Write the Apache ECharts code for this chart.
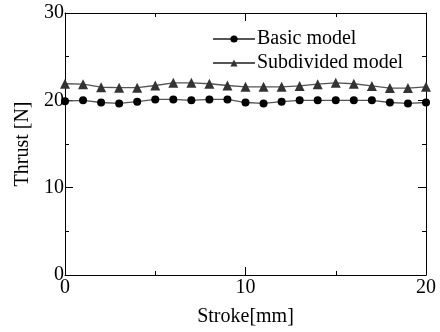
<!DOCTYPE html>
<html>
<head>
<meta charset="utf-8">
<script src="https://cdn.jsdelivr.net/npm/echarts@6/dist/echarts.min.js"></script>
<style>html,body{margin:0;padding:0;background:#fff}#c{width:440px;height:332px}</style>
</head>
<body>
<div id="c"></div>
<script>
// Stroke positions in mm
const stroke = [0,1,2,3,4,5,6,7,8,9,10,11,12,13,14,15,16,17,18,19,20];
// Thrust [N] for each model
const basicModel = [19.9,20.0,19.75,19.65,19.85,20.1,20.1,20.0,20.1,20.1,19.75,19.65,19.85,20.0,20.0,20.0,20.0,20.0,19.75,19.65,19.75];
const subdividedModel = [21.9,21.85,21.5,21.45,21.45,21.7,22.0,22.0,21.9,21.7,21.55,21.55,21.55,21.65,21.85,22.0,21.9,21.65,21.4,21.4,21.55];
const seriesNames = ['Basic model','Subdivided model'];

const font = 'Liberation Serif, Times New Roman, serif';
const pair = (ys) => stroke.map((x, i) => [x, ys[i]]);

const chart = echarts.init(document.getElementById('c'), null, {renderer: 'canvas'});

const tickCommon = () => ({
  axisLine: {show: true, onZero: false, lineStyle: {color: '#000', width: 1}},
  axisTick: {show: true, inside: true, length: 8, lineStyle: {color: '#000', width: 1}},
  minorTick: {show: true, splitNumber: 2, length: 4, lineStyle: {color: '#000', width: 1}},
  splitLine: {show: false}
});

chart.setOption({
  animation: false,
  grid: {left: 65, right: 14, top: 13, bottom: 55, show: false},
  legend: {
    orient: 'vertical', left: 212, top: 29, itemGap: 4, padding: 0,
    itemWidth: 42, itemHeight: 9,
    textStyle: {fontFamily: font, fontSize: 20, color: '#000', padding: [0,0,0,-3]},
    data: seriesNames
  },
  xAxis: [
    Object.assign(tickCommon(), {
      type: 'value', min: 0, max: 20, interval: 10, position: 'bottom',
      name: 'Stroke[mm]', nameLocation: 'middle', nameGap: 32,
      nameTextStyle: {fontFamily: font, fontSize: 20, color: '#000'},
      axisLabel: {fontFamily: font, fontSize: 20, color: '#000', margin: 3}
    }),
    Object.assign(tickCommon(), {
      type: 'value', min: 0, max: 20, interval: 10, position: 'top',
      axisLabel: {show: false}
    })
  ],
  yAxis: [
    Object.assign(tickCommon(), {
      type: 'value', min: 0, max: 30, interval: 10, position: 'left',
      name: 'Thrust [N]', nameLocation: 'middle', nameGap: 30,
      nameTextStyle: {fontFamily: font, fontSize: 20, color: '#000'},
      axisLabel: {fontFamily: font, fontSize: 20, color: '#000', margin: 1}
    }),
    Object.assign(tickCommon(), {
      type: 'value', min: 0, max: 30, interval: 10, position: 'right',
      axisLabel: {show: false}
    })
  ],
  series: [
    {
      name: seriesNames[0], type: 'line', data: pair(basicModel),
      symbol: 'circle', symbolSize: 8,
      lineStyle: {color: '#555', width: 1.3},
      itemStyle: {color: '#000'}
    },
    {
      name: seriesNames[1], type: 'line', data: pair(subdividedModel),
      symbol: 'triangle', symbolSize: 10,
      lineStyle: {color: '#555', width: 1.3},
      itemStyle: {color: '#333'}
    }
  ]
});
</script>
</body>
</html>
